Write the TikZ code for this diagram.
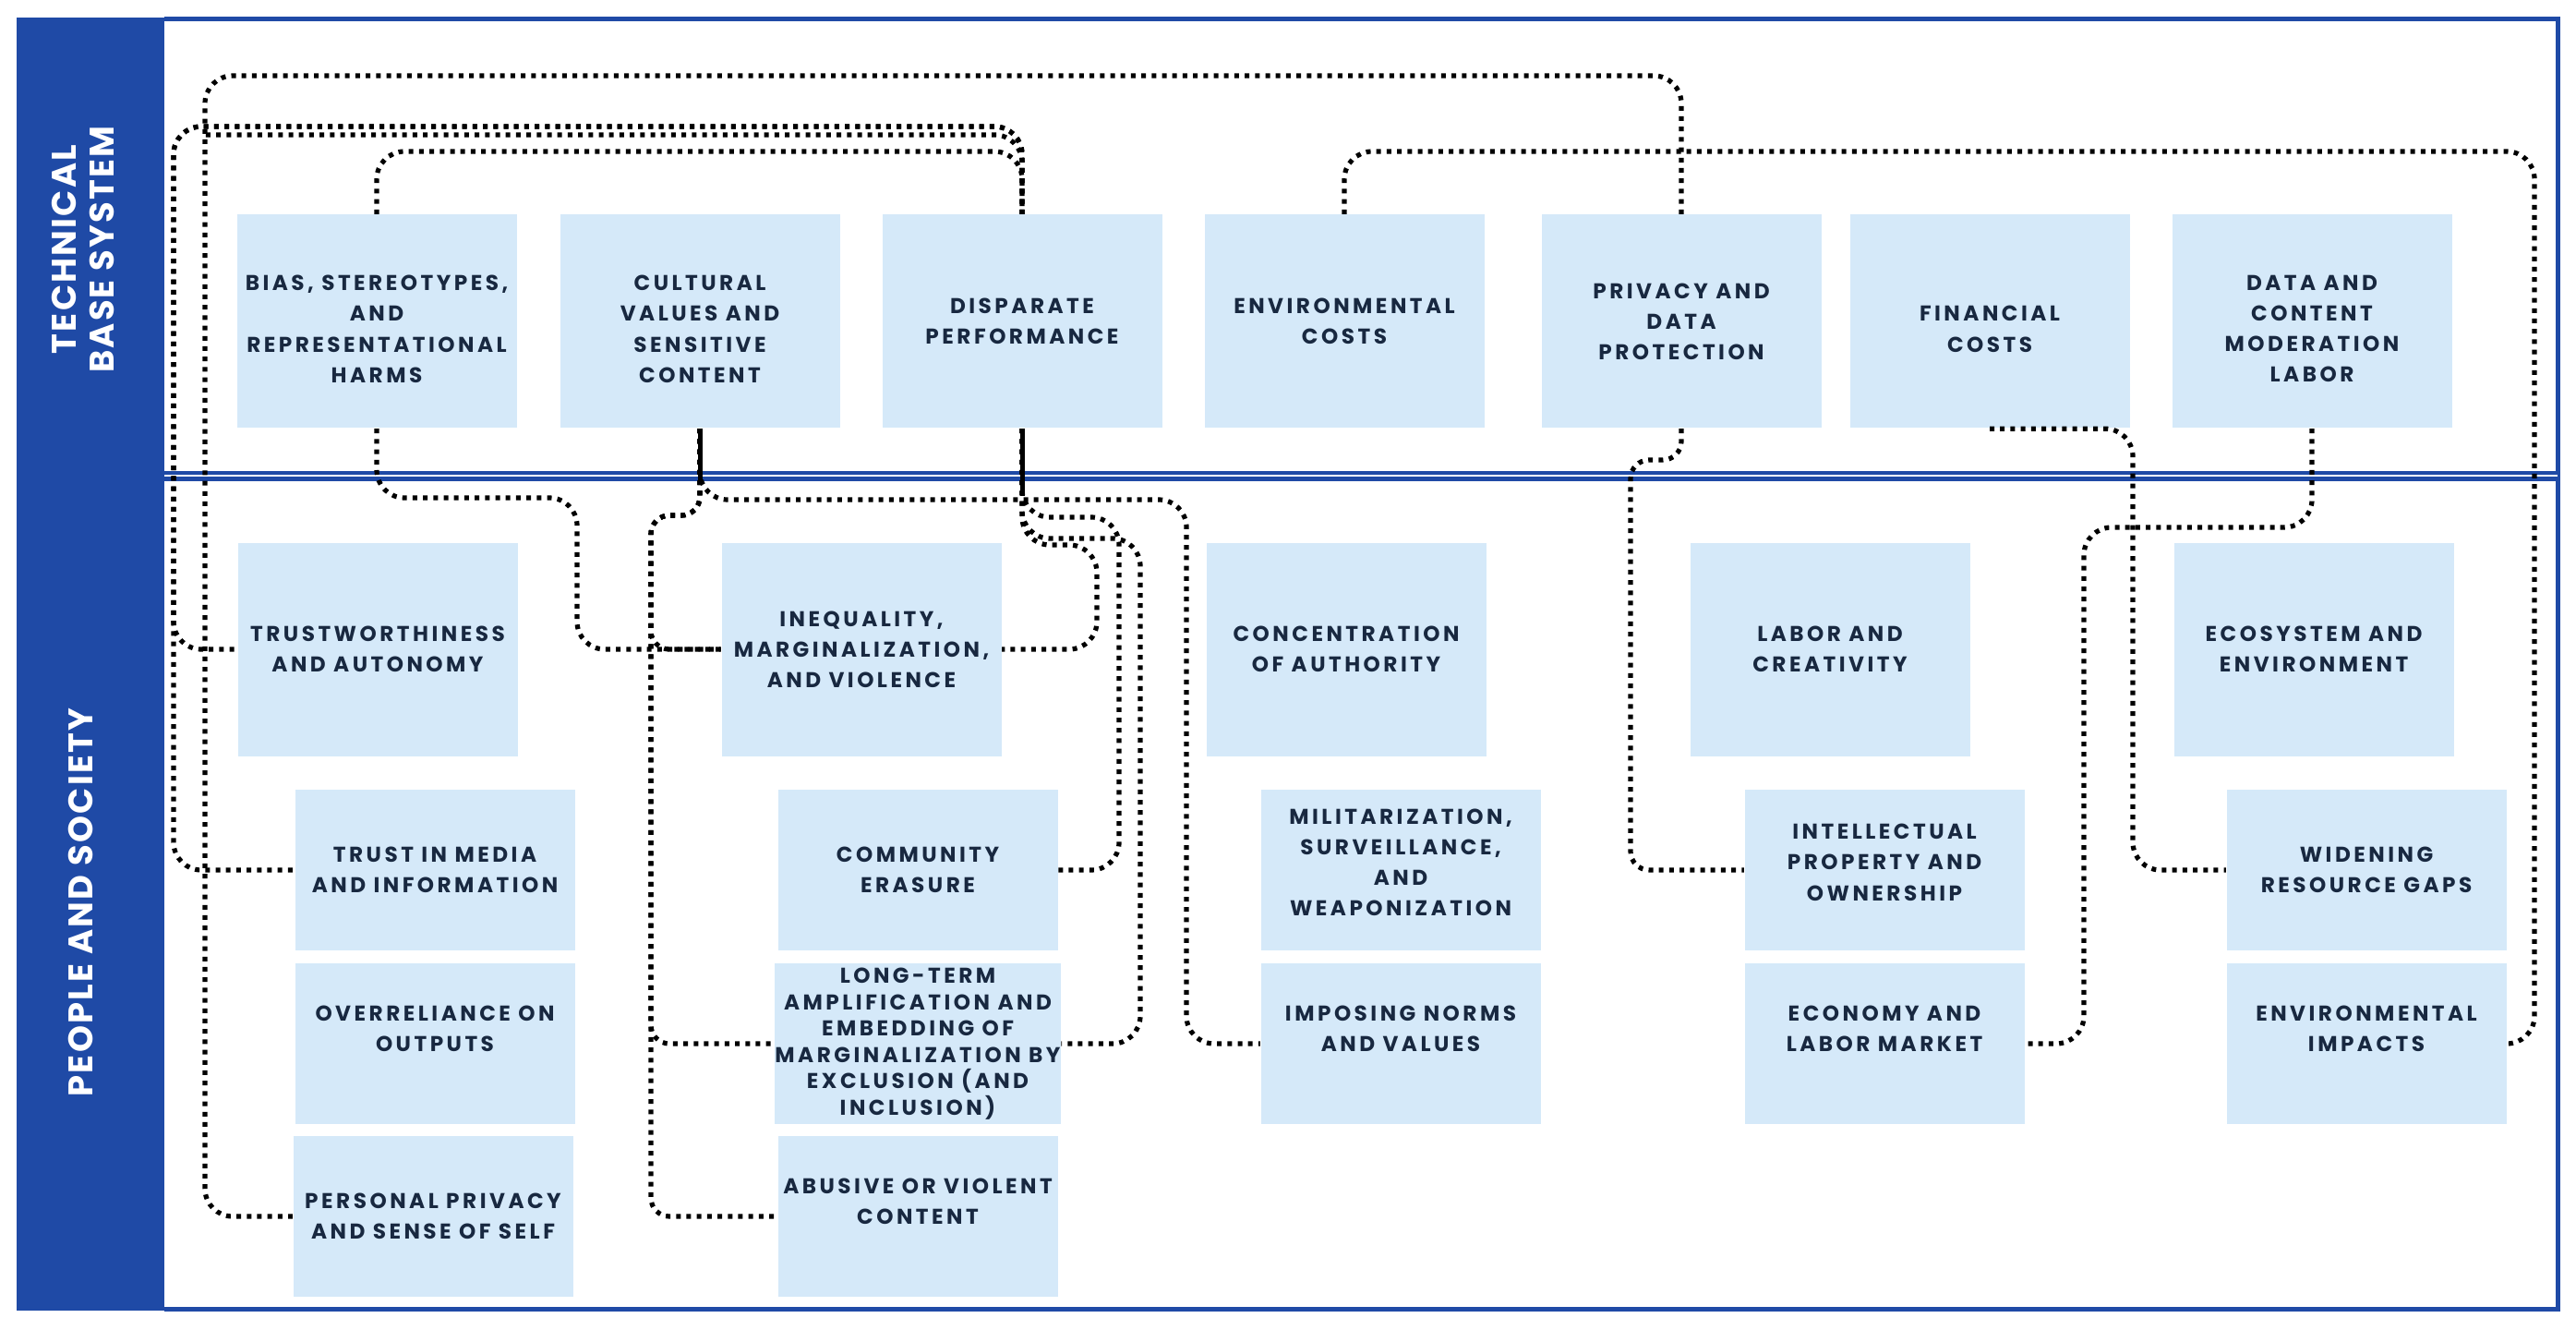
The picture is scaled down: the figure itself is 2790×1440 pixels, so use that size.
\documentclass[tikz,border=0pt]{standalone}
\usepackage{fontspec}
\setmainfont{Poppins}
\usepackage{xcolor}
\usetikzlibrary{calc}
\definecolor{azul}{RGB}{31,74,166}
\definecolor{celeste}{RGB}{213,233,249}
\definecolor{tinta}{RGB}{24,40,64}
\newfontfamily\cajafont{Poppins}[LetterSpace=15]
\newfontfamily\ladofont{Poppins}[LetterSpace=6]

\begin{document}
\begin{tikzpicture}[x=0.1mm, y=-0.1mm,
  caja/.style={fill=celeste, text=tinta, minimum width=30.3mm, align=center, inner sep=0pt,
    font=\cajafont\bfseries\fontsize{6.6}{9.4}\selectfont},
  alta/.style={caja, minimum height=23.1mm},
  baja/.style={caja, minimum height=17.4mm},
  enlace/.style={draw, line width=0.52mm, dash pattern=on 0.5mm off 0.62mm, rounded corners=3mm},
  lado/.style={text=white, rotate=90, align=center, font=\ladofont\bfseries\fontsize{10.5}{11.7}\selectfont}]
\useasboundingbox (0,0) rectangle (2790,1440);
% marco
\fill[azul] (18,19) rectangle (178,1419);
\draw[azul, line width=0.5mm] (178,21) -- (2770,21) -- (2770,1417) -- (178,1417);
\draw[azul, line width=0.45mm, double=white, double distance=0.2mm] (178,515.5) -- (2770,515.5);
\node[lado] (tecnico) at (90,270) {TECHNICAL\\BASE SYSTEM};
\node[lado] (sociedad) at (87,977) {PEOPLE AND SOCIETY};
% sistema tecnico
\node[alta] (bias) at (408,348) {BIAS, STEREOTYPES,\\AND\\REPRESENTATIONAL\\HARMS\\[-14.1pt]};
\node[alta] (cult) at (758,348) {CULTURAL\\VALUES AND\\SENSITIVE\\CONTENT\\[-14.1pt]};
\node[alta] (disp) at (1107,348) {DISPARATE\\PERFORMANCE};
\node[alta] (env) at (1456,348) {ENVIRONMENTAL\\COSTS};
\node[alta] (priv) at (1821,348) {PRIVACY AND\\DATA\\PROTECTION};
\node[alta] (fin) at (2155,348) {FINANCIAL\\COSTS\\[-14.1pt]};
\node[alta] (data) at (2504,348) {DATA AND\\CONTENT\\MODERATION\\LABOR\\[-14.1pt]};
% personas y sociedad
\node[alta] (trust) at (409,703) {TRUSTWORTHINESS\\AND AUTONOMY};
\node[alta] (ineq) at (933,703) {INEQUALITY,\\MARGINALIZATION,\\AND VIOLENCE};
\node[alta] (auth) at (1458,703) {CONCENTRATION\\OF AUTHORITY};
\node[alta] (labor) at (1982,703) {LABOR AND\\CREATIVITY};
\node[alta] (eco) at (2506,703) {ECOSYSTEM AND\\ENVIRONMENT};
\node[baja] (media) at (471,942) {TRUST IN MEDIA\\AND INFORMATION};
\node[baja] (relian) at (471,1130) {OVERRELIANCE ON\\OUTPUTS\\};
\node[baja] (self) at (469,1317) {PERSONAL PRIVACY\\AND SENSE OF SELF};
\node[baja] (comm) at (994,942) {COMMUNITY\\ERASURE};
\node[baja, font=\cajafont\bfseries\fontsize{6.6}{8.1}\selectfont] (long) at (994,1130)
  {LONG-TERM\\AMPLIFICATION AND\\EMBEDDING OF\\MARGINALIZATION BY\\EXCLUSION (AND\\INCLUSION)};
\node[baja] (abuse) at (994,1317) {ABUSIVE OR VIOLENT\\CONTENT\\};
\node[baja] (milit) at (1517,942) {MILITARIZATION,\\SURVEILLANCE,\\AND\\WEAPONIZATION\\[-4.7pt]};
\node[baja] (norms) at (1517,1130) {IMPOSING NORMS\\AND VALUES\\};
\node[baja] (ip) at (2041,942) {INTELLECTUAL\\PROPERTY AND\\OWNERSHIP\\[-4.7pt]};
\node[baja] (econ) at (2041,1130) {ECONOMY AND\\LABOR MARKET\\};
\node[baja] (gaps) at (2563,942) {WIDENING\\RESOURCE GAPS};
\node[baja] (envimp) at (2563,1130) {ENVIRONMENTAL\\IMPACTS\\};
\coordinate (union) at (222,146);
% enlaces por arriba
\draw[enlace] (bias.north) -- (bias.north |- 0,164) -| (disp.north);
\draw[enlace] (disp.north) |- (188,137) |- (trust.west);
\draw[enlace] (disp.north) |- (188,137) |- (media.west);
\draw[enlace] (disp.north) |- (union);
\draw[enlace] (priv.north) |- (222,82) |- (self.west);
\draw[enlace] (env.north) |- (2745,164) |- (envimp.east);
% enlaces por abajo
\draw[enlace] (bias.south) |- (625,539) |- (ineq.west);
\draw[enlace] (cult.south) |- (1285,541) |- (norms.west);
\draw[enlace, rounded corners=2mm] (cult.south) |- (705,558) |- (ineq.west);
\draw[enlace, rounded corners=2mm] (cult.south) |- (705,558) |- (long.west);
\draw[enlace, rounded corners=2mm] (cult.south) |- (705,558) |- (abuse.west);
\draw[enlace] (disp.south) |- (1212,560) |- (comm.east);
\draw[enlace] (disp.south) |- (1235,583) |- (long.east);
\draw[enlace] (disp.south) |- (1188,590) |- (ineq.east);
\draw[enlace, rounded corners=2mm] (priv.south) |- (1766,498) |- (ip.west);
\draw[enlace] (fin.south) -| (2310,942) -- (gaps.west);
\draw[enlace] (data.south) |- (2257,571) |- (econ.east);
\draw[line width=0.5mm] (cult.south) -- ++(0,56);
\draw[line width=0.5mm] (disp.south) -- ++(0,73);
\end{tikzpicture}
\end{document}
